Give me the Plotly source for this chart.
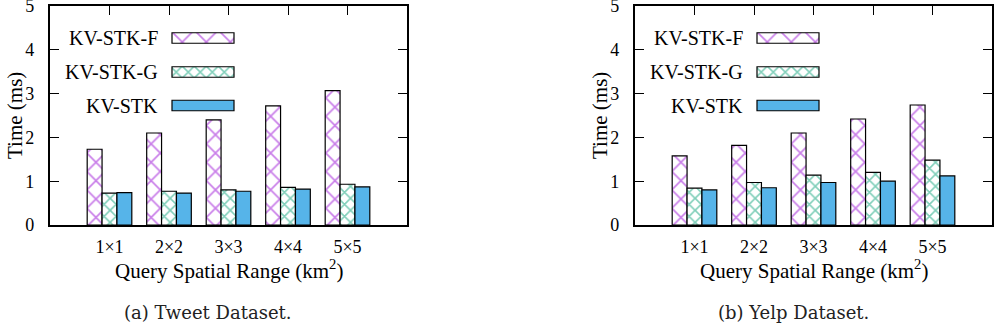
import plotly.graph_objects as go

# ---- data ----
categories = ["1×1", "2×2", "3×3", "4×4", "5×5"]
series_names = ["KV-STK-F", "KV-STK-G", "KV-STK"]
tweet_f = [1.73, 2.10, 2.40, 2.72, 3.07]
tweet_g = [0.73, 0.77, 0.80, 0.86, 0.93]
tweet_s = [0.74, 0.73, 0.77, 0.82, 0.87]
yelp_f = [1.58, 1.82, 2.10, 2.42, 2.74]
yelp_g = [0.84, 0.97, 1.14, 1.20, 1.48]
yelp_s = [0.80, 0.85, 0.97, 1.00, 1.12]
y_ticks = [0, 1, 2, 3, 4, 5]
captions = ["(a) Tweet Dataset.", "(b) Yelp Dataset."]
x_title = "Query Spatial Range (km<sup>2</sup>)"
y_title = "Time (ms)"

W, H = 996, 332
FONT = "Liberation Serif, Times New Roman, Times, serif"
CAP_FONT = "DejaVu Serif, serif"
PURPLE = "#9400D3"
GREEN = "#009E73"
BLUE = "#56B4E9"

styles = [
    dict(color="white", pattern=dict(shape="x", fgcolor=PURPLE, bgcolor="white", size=13, solidity=0.25, fillmode="overlay")),
    dict(color="white", pattern=dict(shape="x", fgcolor=GREEN, bgcolor="white", size=8.5, solidity=0.34, fillmode="overlay")),
    dict(color=BLUE),
]
legend_styles = [
    dict(color="white", pattern=dict(shape="x", fgcolor=PURPLE, bgcolor="white", size=17, solidity=0.19, fillmode="overlay")),
    dict(color="white", pattern=dict(shape="x", fgcolor=GREEN, bgcolor="white", size=8.5, solidity=0.34, fillmode="overlay")),
    dict(color=BLUE),
]

# pixel geometry of the two plot areas
panels = [
    dict(x0=50, x1=407, data=[tweet_f, tweet_g, tweet_s], cap=captions[0]),
    dict(x0=635, x1=992, data=[yelp_f, yelp_g, yelp_s], cap=captions[1]),
]
PT, PB = 6, 225

fig = go.Figure()
ydom = [1 - PB / H, 1 - PT / H]

for i, p in enumerate(panels):
    n = i + 1
    xa = "x" if n == 1 else f"x{n}"
    ya = "y" if n == 1 else f"y{n}"
    for vals, name, st in zip(p["data"], series_names, styles):
        fig.add_trace(go.Bar(
            x=categories, y=vals, name=name, xaxis=xa, yaxis=ya,
            marker=dict(**st, line=dict(color="black", width=1.2)),
            showlegend=False,
        ))
    xdom = [p["x0"] / W, p["x1"] / W]
    axis_common = dict(showline=True, linecolor="black", linewidth=2.2, mirror="ticks",
                       ticks="inside", tickcolor="black", showgrid=False, zeroline=False,
                       layer="below traces", automargin=False, ticklabeloverflow="allow",
                       tickfont=dict(family=FONT, size=18, color="black"))
    fig.layout[f"xaxis{'' if n == 1 else n}"] = dict(
        domain=xdom, anchor=ya, type="category", categoryorder="array",
        categoryarray=categories, range=[-1, 5], ticklen=9, ticklabelstandoff=4,
        **axis_common)
    fig.layout[f"yaxis{'' if n == 1 else n}"] = dict(
        domain=ydom, anchor=xa, range=[0, 5], tickvals=y_ticks, ticklen=9,
        ticklabelstandoff=10, **axis_common)

    # legend axes (pixel-like coordinates overlaying the plot area)
    lx = 2 + n
    lxa, lya = f"x{lx}", f"y{lx}"
    fig.layout[f"xaxis{lx}"] = dict(overlaying=xa, anchor=lya, range=[0, p["x1"] - p["x0"]],
                                    visible=False, fixedrange=True, automargin=False)
    fig.layout[f"yaxis{lx}"] = dict(overlaying=ya, anchor=lxa, range=[PB - PT, 0],
                                    visible=False, fixedrange=True, automargin=False)
    rows = [32, 66, 99.5]
    for name, st, ry in zip(series_names, legend_styles, rows):
        fig.add_trace(go.Bar(
            x=[62], y=[ry], base=[122], orientation="h", width=[10.5],
            xaxis=lxa, yaxis=lya, showlegend=False, hoverinfo="skip",
            marker=dict(**st, line=dict(color="black", width=1.2)),
        ))
        fig.add_annotation(x=110, y=ry, xref=lxa, yref=lya, text=name, showarrow=False,
                           xanchor="right", yanchor="middle",
                           font=dict(family=FONT, size=20, color="black"))

    cx = (p["x0"] + p["x1"]) / 2 / W
    fig.add_annotation(x=cx, y=1 - 269 / H, xref="paper", yref="paper", text=x_title,
                       showarrow=False, xanchor="center", yanchor="middle",
                       font=dict(family=FONT, size=21, color="black"))
    fig.add_annotation(x=(p["x0"] - 35) / W, y=1 - 116 / H, xref="paper", yref="paper",
                       text=y_title, textangle=-90, showarrow=False,
                       xanchor="center", yanchor="middle",
                       font=dict(family=FONT, size=21, color="black"))
    fig.add_annotation(x=(p["x0"] + 158) / W, y=1 - 312 / H, xref="paper", yref="paper",
                       text=p["cap"], showarrow=False, xanchor="center", yanchor="middle",
                       font=dict(family=CAP_FONT, size=18, color="#222"))

fig.update_layout(
    width=W, height=H, margin=dict(l=0, r=0, t=0, b=0, autoexpand=False),
    paper_bgcolor="white", plot_bgcolor="white",
    barmode="group", bargap=0.25, bargroupgap=0,
)

fig.write_html("out.html", config={"displayModeBar": False, "staticPlot": True},
               post_script="document.body.style.margin='0';document.body.style.overflow='hidden';")
